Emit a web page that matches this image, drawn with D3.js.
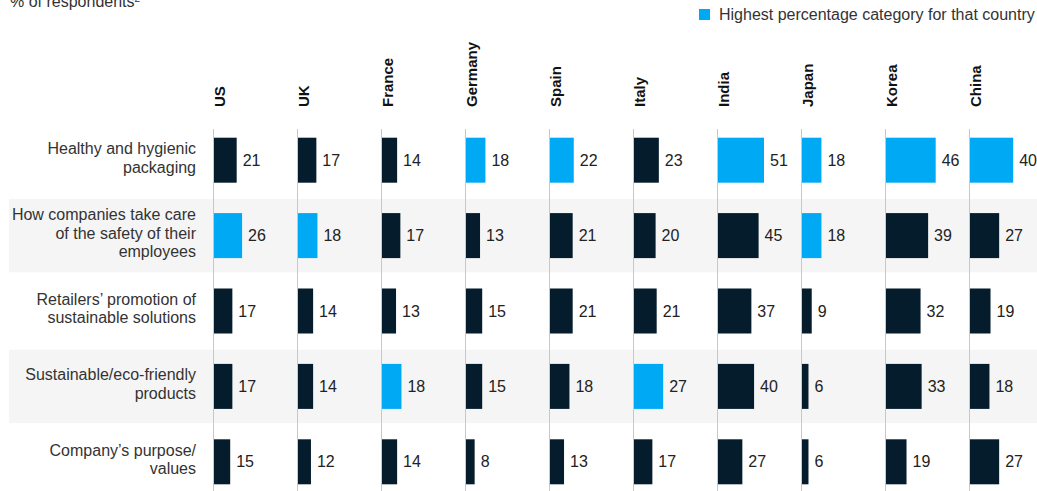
<!DOCTYPE html>
<html>
<head>
<meta charset="utf-8">
<script src="https://cdn.jsdelivr.net/npm/d3@7"></script>
<style>
  body { margin: 0; background: #fff; }
  svg { display: block; font-family: "Liberation Sans", Arial, sans-serif; }
</style>
</head>
<body>
<svg id="chart" width="1037" height="491"></svg>
<script>
// ---- data ----
const countries = ['US', 'UK', 'France', 'Germany', 'Spain', 'Italy', 'India', 'Japan', 'Korea', 'China'];
const categories = [
  'Healthy and hygienic packaging',
  'How companies take care of the safety of their employees',
  'Retailers\u2019 promotion of sustainable solutions',
  'Sustainable/eco-friendly products',
  'Company\u2019s purpose/ values'
];
const categoryLines = [
  ['Healthy and hygienic', 'packaging'],
  ['How companies take care', 'of the safety of their', 'employees'],
  ['Retailers\u2019 promotion of', 'sustainable solutions'],
  ['Sustainable/eco-friendly', 'products'],
  ['Company\u2019s purpose/', 'values']
];
// one row per category, one value per country (same order as countries)
const healthyPackaging   = [21, 17, 14, 18, 22, 23, 51, 18, 46, 40];
const employeeSafety     = [26, 18, 17, 13, 21, 20, 45, 18, 39, 27];
const retailerPromotion  = [17, 14, 13, 15, 21, 21, 37,  9, 32, 19];
const ecoProducts        = [17, 14, 18, 15, 18, 27, 40,  6, 33, 18];
const companyPurpose     = [15, 12, 14,  8, 13, 17, 27,  6, 19, 27];
const seriesValues = [healthyPackaging, employeeSafety, retailerPromotion, ecoProducts, companyPurpose];

const titleText = '% of respondents';
const legendText = 'Highest percentage category for that country';

const DARK = '#051c2c', BLUE = '#00a9f4';

// ---- layout ----
const svg = d3.select('#chart');

const col = d3.scaleBand()
    .domain(countries)
    .range([213, 213 + 84 * countries.length]);

const row = d3.scaleBand()
    .domain(categories)
    .range([122.5, 499.5]);

// bar length scale; India's column is drawn a bit compressed in the original
const x = d3.scaleLinear().domain([0, 50]).range([0, 54]);
const xIndia = d3.scaleLinear().domain([0, 51]).range([0, 46]);
const barScale = c => c === 'India' ? xIndia : x;

const barH = 45;

// column maxima -> highlight
const colMax = countries.map((c, j) => d3.max(seriesValues, s => s[j]));

// ---- bands ----
svg.append('g').selectAll('rect')
  .data(categories.filter((d, i) => i % 2 === 1))
  .enter().append('rect')
    .attr('x', 9)
    .attr('width', 1037 - 9)
    .attr('y', d => row(d) + 1)
    .attr('height', row.bandwidth() - 2)
    .attr('fill', '#f5f5f5');

// ---- title & legend ----
const title = svg.append('text')
    .attr('x', 10)
    .attr('y', 7)
    .attr('font-size', 16)
    .attr('fill', '#333');
title.append('tspan').text(titleText);
title.append('tspan').attr('font-size', 10).attr('dy', -5).text('2');

svg.append('rect')
    .attr('x', 699).attr('y', 9)
    .attr('width', 11).attr('height', 11)
    .attr('fill', BLUE);
svg.append('text')
    .attr('x', 719).attr('y', 20)
    .attr('font-size', 16)
    .attr('fill', '#333')
    .text(legendText);

// ---- column headers ----
svg.append('g').selectAll('text')
  .data(countries)
  .enter().append('text')
    .attr('transform', d => `translate(${col(d) + 12},107) rotate(-90)`)
    .attr('font-size', 15)
    .attr('font-weight', 'bold')
    .attr('fill', '#111')
    .text(d => d);

// ---- baselines ----
svg.append('g').selectAll('line')
  .data(countries)
  .enter().append('line')
    .attr('x1', d => col(d) + 0.5)
    .attr('x2', d => col(d) + 0.5)
    .attr('y1', 129)
    .attr('y2', 491)
    .attr('stroke', '#c8c8c8')
    .attr('stroke-width', 1);

// ---- row labels ----
const lineH = 18.5;
svg.append('g').selectAll('text')
  .data(categories)
  .enter().append('text')
    .attr('text-anchor', 'end')
    .attr('font-size', 16)
    .attr('fill', '#333')
    .each(function(d, i) {
      const lines = categoryLines[i];
      const cy = row(d) + row.bandwidth() / 2 - 2.5;
      const first = cy - (lines.length - 1) / 2 * lineH + 5.7;
      d3.select(this).selectAll('tspan')
        .data(lines)
        .enter().append('tspan')
          .attr('x', 196)
          .attr('y', (l, k) => first + k * lineH)
          .text(l => l);
    });

// ---- bars ----
const cells = [];
categories.forEach((cat, i) => {
  countries.forEach((c, j) => {
    cells.push({cat, country: c, value: seriesValues[i][j], top: seriesValues[i][j] === colMax[j]});
  });
});

const cell = svg.append('g').selectAll('g')
  .data(cells)
  .enter().append('g')
    .attr('transform', d => `translate(${col(d.country) + 1},${row(d.cat) + (row.bandwidth() - barH) / 2})`);

cell.append('rect')
    .attr('width', d => barScale(d.country)(d.value))
    .attr('height', barH)
    .attr('fill', d => d.top ? BLUE : DARK);

cell.append('text')
    .attr('x', d => barScale(d.country)(d.value) + 6)
    .attr('y', barH / 2 + 5.7)
    .attr('font-size', 16)
    .attr('fill', '#222')
    .text(d => d.value);
</script>
</body>
</html>
